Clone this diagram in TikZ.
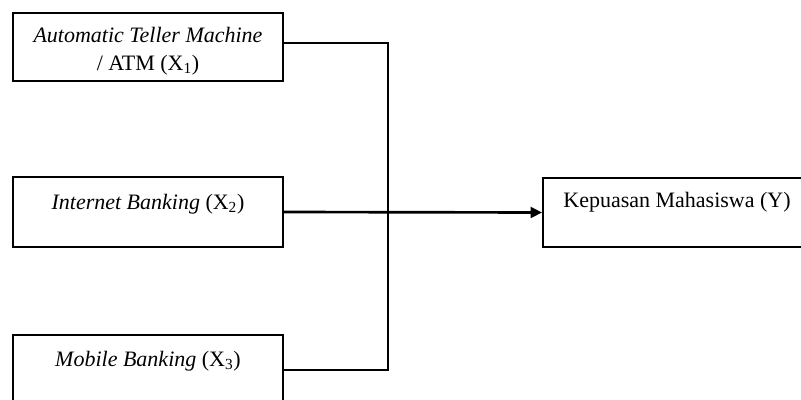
\documentclass[tikz,border=0pt]{standalone}
\usepackage{fontspec}
\setmainfont{Liberation Serif}
\usetikzlibrary{arrows.meta}
\begin{document}
\begin{tikzpicture}[x=0.75pt,y=-0.75pt,
  box/.style={draw,line width=1.4pt,minimum width=270*0.75pt,minimum height=68*0.75pt,inner sep=0pt},
  rbox/.style={draw,line width=1.4pt,minimum width=262*0.75pt,minimum height=69*0.75pt,inner sep=0pt},
  txt/.style={font=\fontsize{16.5}{21}\selectfont,align=center,inner sep=0pt},
  link/.style={line width=2pt},
  arr/.style={link,-{Triangle[length=8.5pt,width=8pt]}}]
\clip (0,0) rectangle (801,400);
\fill[white] (0,0) rectangle (801,400);
% input variables
\node[box] (x1) at (148,47) {};
\node[box,minimum height=70*0.75pt] (x2) at (148,212) {};
\node[box,minimum height=70*0.75pt] (x3) at (148,370) {};
% outcome variable
\node[rbox] (y) at (674,212.5) {};
% labels
\node[txt] (x1t) at (148,51) {\textit{Automatic Teller Machine}\\/ ATM (X\textsubscript{1})};
\node[txt] (x2t) at (148,204) {\textit{Internet Banking} (X\textsubscript{2})};
\node[txt] (x3t) at (148,361) {\textit{Mobile Banking} (X\textsubscript{3})};
\node[txt] (yt) at (677,202) {Kepuasan Mahasiswa (Y)};
% connectors
\coordinate (j) at (388,43);
\draw[link] ([yshift=3pt]x1.east) -- (j) |- (x3.east);
\draw[arr] (x2.east) -- (y.west);
\end{tikzpicture}
\end{document}
